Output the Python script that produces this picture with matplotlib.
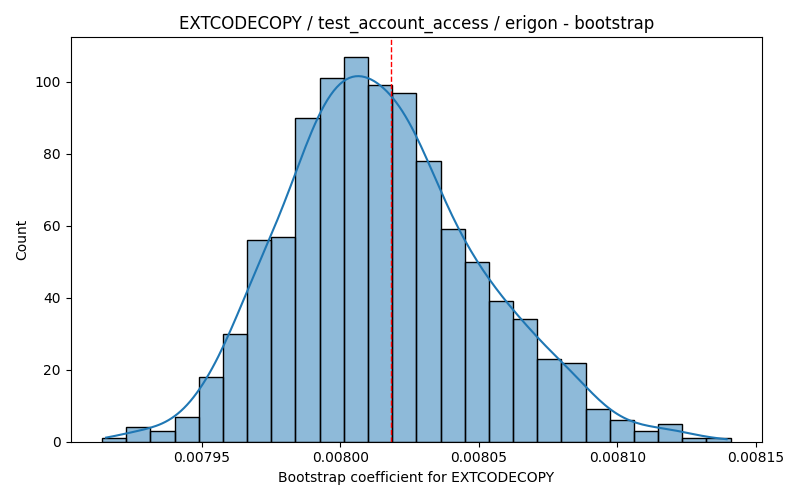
import numpy as np
import pandas as pd
import matplotlib
matplotlib.use("Agg")
import matplotlib.pyplot as plt
import seaborn as sns

# bootstrap histogram (1000 resamples, 26 bins)
bin_lo = 0.0079139
bin_hi = 0.0081409
counts = [1, 4, 3, 7, 18, 30, 56, 57, 90, 101, 107, 99, 97,
          78, 59, 50, 39, 34, 23, 22, 9, 6, 3, 5, 1, 1]
coef = 0.0080183  # red dashed reference line

edges = np.linspace(bin_lo, bin_hi, len(counts) + 1)
df = pd.DataFrame({'coef': (edges[:-1] + edges[1:]) / 2, 'n': counts})

# weights shrink the effective n of the kde, so narrow the bandwidth back
fig, ax = plt.subplots(figsize=(8, 5), dpi=100)
sns.histplot(data=df, x='coef', weights='n', bins=len(counts),
             binrange=(bin_lo, bin_hi), kde=True,
             kde_kws={'cut': 0.2, 'bw_adjust': 0.42}, ax=ax)
ax.axvline(coef, color='red', linestyle='--', linewidth=1)
pad = 0.05 * (bin_hi - bin_lo)
ax.set_xlim(bin_lo - pad, bin_hi + pad)
ax.set_xlabel('Bootstrap coefficient for EXTCODECOPY')
ax.set_ylabel('Count')
ax.set_title('EXTCODECOPY / test_account_access / erigon - bootstrap')
fig.tight_layout()
fig.savefig('out.png')
